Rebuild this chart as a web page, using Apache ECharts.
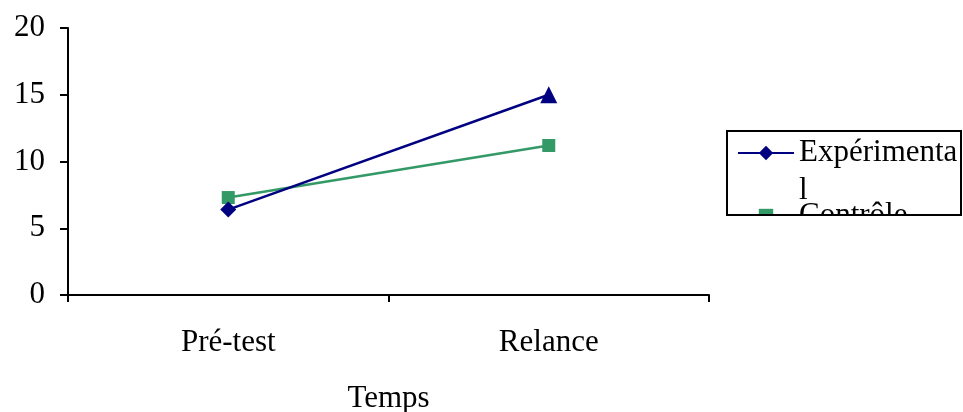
<!DOCTYPE html>
<html><head><meta charset="utf-8">
<script src="https://cdn.jsdelivr.net/npm/echarts@6/dist/echarts.min.js"></script>
<style>html,body{margin:0;padding:0;background:#fff}#c{width:963px;height:412px}</style>
</head><body><div id="c"></div>
<script>
const categories = ['Pré-test', 'Relance'];
const experimental = [6.4, 15.0];
const controle = [7.3, 11.2];
const yTicks = [0, 5, 10, 15, 20];
// legend text as it wraps in the reference box
const legendLabels = { 'Expérimental': '\nExpérimenta\nl', 'Contrôle': 'Contrôle' };

const font = 'Liberation Serif';
const chart = echarts.init(document.getElementById('c'));
chart.setOption({
  animation: false,
  backgroundColor: '#fff',
  textStyle: { fontFamily: font },
  grid: { left: 68, right: 254, top: 28, bottom: 117, containLabel: false, outerBoundsMode: 'none' },
  legend: {
    orient: 'vertical', left: 737, top: 96, padding: 0, itemGap: -13,
    itemWidth: 56, itemHeight: 18,
    formatter: name => legendLabels[name],
    textStyle: { fontFamily: font, fontSize: 31, color: '#000', lineHeight: 38 },
    data: ['Expérimental', 'Contrôle']
  },
  xAxis: {
    type: 'category', data: categories, boundaryGap: true,
    name: 'Temps', nameLocation: 'middle', nameGap: 88,
    nameTextStyle: { fontFamily: font, fontSize: 31, color: '#000' },
    axisLine: { lineStyle: { color: '#000', width: 2 } },
    axisTick: { show: true, length: 7, lineStyle: { color: '#000', width: 2 } },
    axisLabel: { fontFamily: font, fontSize: 31, color: '#000', margin: 32 },
    splitLine: { show: false }
  },
  yAxis: {
    type: 'value', min: 0, max: 20, interval: 5,
    axisLine: { show: true, lineStyle: { color: '#000', width: 2 } },
    axisTick: { show: true, length: 8, lineStyle: { color: '#000', width: 2 } },
    axisLabel: { fontFamily: font, fontSize: 31, color: '#000', margin: 23,
      formatter: v => yTicks.includes(v) ? String(v) : '' },
    splitLine: { show: false }
  },
  series: [
    { name: 'Expérimental', type: 'line',
      data: [experimental[0], { value: experimental[1], symbol: 'triangle', symbolSize: 17 }],
      symbol: 'diamond', symbolSize: 16,
      lineStyle: { color: '#000080', width: 2.5 }, itemStyle: { color: '#000080' },
      z: 3 },
    { name: 'Contrôle', type: 'line', data: controle,
      symbol: 'rect', symbolSize: 13,
      lineStyle: { color: '#339966', width: 2.5 }, itemStyle: { color: '#339966' },
      z: 2 }
  ],
  graphic: [
    { type: 'rect', z: 100, silent: true, shape: { x: 715, y: 216, width: 248, height: 196 },
      style: { fill: '#fff' } },
    { type: 'rect', z: 101, silent: true, shape: { x: 727, y: 131, width: 234, height: 84 },
      style: { fill: 'none', stroke: '#000', lineWidth: 2 } }
  ]
});
</script></body></html>
